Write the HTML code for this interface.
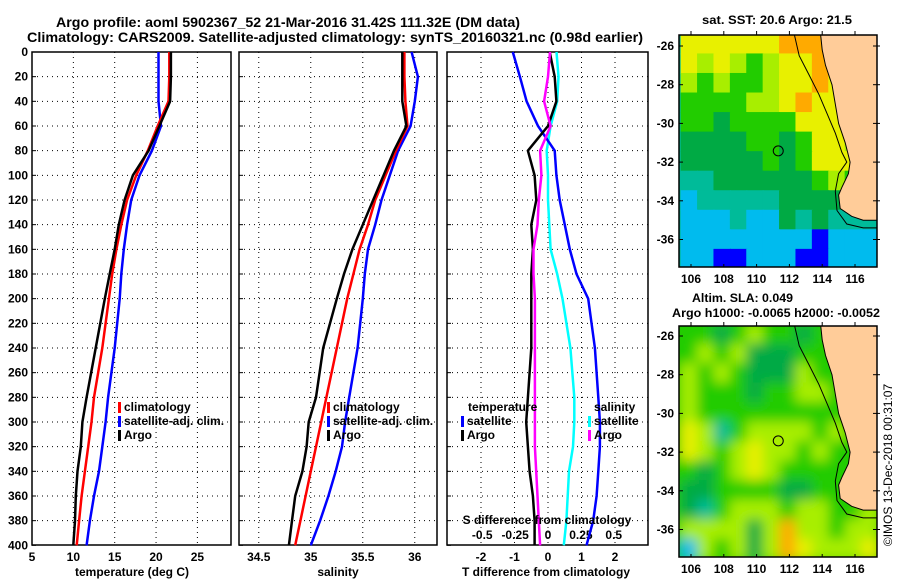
<!DOCTYPE html>
<html><head><meta charset="utf-8"><style>
body{margin:0;background:#fff}
svg text{font-family:"Liberation Sans",sans-serif;font-weight:bold;font-size:12px;fill:#000}
</style></head><body>
<svg id="s" width="900" height="580" viewBox="0 0 900 580" xmlns="http://www.w3.org/2000/svg">
<defs><filter id="bl" x="0" y="0" width="1" height="1"><feGaussianBlur stdDeviation="6"/></filter>
<clipPath id="c1"><rect x="679" y="35" width="198" height="232"/></clipPath>
<clipPath id="c2"><rect x="679" y="326" width="198" height="231"/></clipPath></defs>
<text x="56" y="27" textLength="464" lengthAdjust="spacingAndGlyphs" style="font-size:14px">Argo profile: aoml 5902367_52 21-Mar-2016 31.42S 111.32E (DM data)</text>
<text x="27" y="42" textLength="616" lengthAdjust="spacingAndGlyphs" style="font-size:14px">Climatology: CARS2009. Satellite-adjusted climatology: synTS_20160321.nc (0.98d earlier)</text>
<text x="702" y="24" textLength="150" lengthAdjust="spacingAndGlyphs">sat. SST: 20.6 Argo: 21.5</text>
<text x="692" y="302" textLength="101" lengthAdjust="spacingAndGlyphs">Altim. SLA: 0.049</text>
<text x="672" y="317" textLength="208" lengthAdjust="spacingAndGlyphs">Argo h1000: -0.0065 h2000: -0.0052</text>
<text transform="translate(892,465) rotate(-90)" text-anchor="middle" style="font-weight:normal">©IMOS 13-Dec-2018 00:31:07</text>
<g id="g"></g>
</svg>
<script>
const depths=[0,20,40,60,80,100,120,140,160,180,200,240,280,300,320,340,360,380,400];
const tempArgo=[21.8,21.8,21.7,20.4,19.1,17.2,16.2,15.5,15.0,14.4,13.8,12.7,11.6,11.1,10.9,10.5,10.3,10.2,10.0];
const tempClim=[21.6,21.6,21.5,20.2,19.0,17.6,16.5,15.8,15.2,14.7,14.3,13.5,12.5,12.2,11.8,11.4,11.0,10.7,10.4];
const tempSat=[20.3,20.3,20.3,20.6,19.5,18.0,17.0,16.5,16.1,15.8,15.6,15.0,14.2,13.9,13.5,13.1,12.5,12.0,11.6];
const salArgo=[35.88,35.88,35.88,35.92,35.8,35.7,35.6,35.5,35.4,35.32,35.25,35.12,35.05,34.98,34.96,34.92,34.85,34.82,34.79];
const salClim=[35.9,35.9,35.91,35.93,35.82,35.72,35.62,35.55,35.47,35.41,35.35,35.25,35.15,35.1,35.05,35.0,34.95,34.9,34.85];
const salSat=[35.97,36.03,36.0,35.96,35.84,35.76,35.68,35.62,35.55,35.52,35.5,35.45,35.37,35.33,35.3,35.24,35.17,35.09,35.0];
const dTempSat=[-1.05,-0.84,-0.64,-0.3,0.2,0.25,0.35,0.5,0.65,0.85,1.2,1.4,1.5,1.55,1.55,1.5,1.45,1.35,1.15];
const dTempArgo=[0.05,0.2,0.25,0.0,-0.6,-0.4,-0.35,-0.5,-0.45,-0.5,-0.5,-0.5,-0.6,-0.65,-0.6,-0.55,-0.45,-0.4,-0.4];
const dSalArgo=[0.015,0.0,-0.03,0.02,-0.06,-0.05,-0.07,-0.08,-0.11,-0.11,-0.1,-0.1,-0.1,-0.1,-0.1,-0.09,-0.08,-0.07,-0.06];
const dSalSat=[0.065,0.08,0.07,0.02,-0.01,0.0,0.0,0.01,0.02,0.07,0.11,0.17,0.2,0.2,0.19,0.16,0.15,0.14,0.12];
const depthTicks=[0,20,40,60,80,100,120,140,160,180,200,220,240,260,280,300,320,340,360,380,400];
const tempTicks=[5,10,15,20,25];
const salTicks=[34.5,35,35.5,36];
const dTTicks=[-2,-1,0,1,2];
const dSTicks=[-0.5,-0.25,0,0.25,0.5];
const dSLabels=["-0.5","-0.25","0","0.25","0.5"];
const lonTicks=[106,108,110,112,114,116];
const latTicks=[-26,-28,-30,-32,-34,-36];
const pal={Y:"#e8f000",L:"#a8ee00",G:"#22cc00",D:"#00aa44",T:"#00bb99",C:"#00bbee",B:"#0000ff",O:"#ffaa00",R:"#ff2200"};
const sstGrid=["YYYYYYOOORYY","YLYLGLYYOOYY","LGLGGLYYOYYY","GGGGLLYOYYYY","GGDGGGGYYYLL","DDDDGGDGYYLL","DDDDDGDGYYYY","TTDDDDDDGLGG","CTTTTTDDDDGG","CCCTCCDTDTTT","CCCCCCCCBCCC","CCBBCCCBBCCC"];
const slaGrid=["GGDGLGGDGGGG","GLGLDDDGGGGG","LGLGDDDLGGGG","LGGGDGGLLGGG","LGGGGGGGGGGG","YLTGLLLLGLGG","YLGLYLLGLGGG","GDGLYLGGGGGG","DDGGGGDDGGGG","DTGLLLGLLGGL","LLLLDLOLLGLL","CLGLDLOYLLLY"];
const landLon=[113.9,117.4,117.4,116.5,115.8,115.1,115.0,115.2,115.6,115.7,115.4,115.0,114.8,114.6,114.2,114.0];
const landLat=[-25.4,-25.4,-35.0,-35.0,-34.8,-34.4,-33.7,-33.3,-32.6,-32.0,-31.0,-30.0,-29.0,-28.0,-27.0,-26.2];
const isoLon=[112.3,112.6,113.2,113.8,114.3,114.8,115.2,115.5,115.0,114.8,114.9,115.5,116.5,117.4];
const isoLat=[-25.4,-26.5,-27.5,-28.5,-29.5,-30.5,-31.5,-32.0,-32.6,-33.5,-34.5,-35.2,-35.4,-35.4];
const argoLon=111.32, argoLat=-31.42;

const NS="http://www.w3.org/2000/svg", G=document.getElementById('g');
function mk(t,a,p){const e=document.createElementNS(NS,t);for(const k in a)e.setAttribute(k,a[k]);(p||G).appendChild(e);return e;}
const yD=d=>52+d*1.2333;
const xT=v=>32+(v-5)*8.27;
const xS=v=>239+(v-34.31)*104;
const xDT=v=>548+v*33.5;
const xDS=v=>548+v*131.5;
const panels=[[32,231],[239,437],[447,648]];
panels.forEach((p,i)=>{
  depthTicks.forEach(d=>{if(d>0&&d<400){const l=mk('line',{x1:p[0],x2:p[1],y1:yD(d),y2:yD(d),stroke:'#000','stroke-dasharray':'1,4'});}
    const t=mk('line',{x1:p[0],x2:p[0]+4,y1:yD(d),y2:yD(d),stroke:'#000'});});
});
function vgrid(ticks,f,lab,ly){ticks.forEach((v,i)=>{const x=f(v);const l=mk('line',{x1:x,x2:x,y1:52,y2:545,stroke:'#000','stroke-dasharray':'1,4'});
 const t=mk('text',{x:x,y:ly,'text-anchor':'middle'});t.textContent=lab?lab[i]:v;});}
vgrid(tempTicks,xT,null,561);vgrid(salTicks,xS,null,561);vgrid(dTTicks,xDT,null,561);
dSTicks.forEach((v,i)=>{const t=mk('text',{x:xDS(v),y:539,'text-anchor':'middle'});t.textContent=dSLabels[i];});
depthTicks.forEach(d=>{const t=mk('text',{x:28,y:yD(d)+4,'text-anchor':'end'});t.textContent=d;});
panels.forEach((p,i)=>{const r=mk('rect',{x:p[0],y:52,width:p[1]-p[0],height:493,fill:'none',stroke:'#000','stroke-width':1.5});});
function line(vals,f,col,name){const pts=vals.map((v,i)=>f(v).toFixed(1)+','+yD(depths[i]).toFixed(1)).join(' ');const l=mk('polyline',{points:pts,fill:'none',stroke:col,'stroke-width':2.5});}
line(tempSat,xT,'#0000ff','temp-satellite-line');line(tempClim,xT,'#ff0000','temp-climatology-line');line(tempArgo,xT,'#000','temp-argo-line');
line(salSat,xS,'#0000ff','sal-satellite-line');line(salClim,xS,'#ff0000','sal-climatology-line');line(salArgo,xS,'#000','sal-argo-line');
line(dSalSat,xDS,'#00ffff','sdiff-satellite-line');line(dTempSat,xDT,'#0000ff','tdiff-satellite-line');line(dTempArgo,xDT,'#000','tdiff-argo-line');line(dSalArgo,xDS,'#ff00ff','sdiff-argo-line');
function leg(x,y,col,txt,name){const b=mk('rect',{x:x,y:y-9,width:3,height:11,fill:col});
 if(txt){const t=mk('text',{x:x+6,y:y});t.textContent=txt;}}
[[118,0],[327,1]].forEach(([x,i])=>{leg(x,411,'#f00','climatology','legend-climatology');leg(x,425,'#00f','satellite-adj. clim.','legend-satellite-adj');leg(x,439,'#000','Argo','legend-argo');});
let t=mk('text',{x:468,y:411});t.textContent='temperature';
leg(461,425,'#00f','satellite','legend-t-satellite');leg(461,439,'#000','Argo','legend-t-argo');
t=mk('text',{x:594,y:411});t.textContent='salinity';
leg(588,425,'#0ff','satellite','legend-s-satellite');leg(588,439,'#f0f','Argo','legend-s-argo');
t=mk('text',{x:547,y:524,'text-anchor':'middle'});t.textContent='S difference from climatology';
[[132,'temperature (deg C)','temp-axis-title'],[338,'salinity','salinity-axis-title'],[546,'T difference from climatology','t-diff-axis-title']].forEach(a=>{const e=mk('text',{x:a[0],y:576,'text-anchor':'middle'});e.textContent=a[1];});
const mx=lon=>691+(lon-106)*16.4;
function map(grid,y0,y1,top,clip,name,blur){
  const my=lat=>top+(-26-lat)*19.35;
  const g=mk('g',{'clip-path':'url(#'+clip+')'});
  const cg=mk('g',blur?{filter:'url(#bl)'}:{},g);
  mk('rect',{x:660,y:y0-20,width:240,height:y1-y0+40,fill:blur?'#22cc00':'#00bb99'},cg);
  grid.forEach((row,r)=>{[...row].forEach((c,k)=>{const la=-25.4-r*1.01;const cell=mk('rect',{x:mx(105.4+k)-0.5,y:my(la)-0.5,width:17.4,height:20.5,fill:pal[c]},cg);});});
  const lp=landLon.map((v,i)=>mx(v).toFixed(1)+','+my(landLat[i]).toFixed(1)).join(' ');
  const land=mk('polygon',{points:lp,fill:'#ffcc99',stroke:'#000','stroke-width':1},g);
  const ip=isoLon.map((v,i)=>mx(v).toFixed(1)+','+my(isoLat[i]).toFixed(1)).join(' ');
  const iso=mk('polyline',{points:ip,fill:'none',stroke:'#000','stroke-width':1},g);
  const c=mk('circle',{cx:mx(argoLon),cy:my(argoLat),r:5,fill:'none',stroke:'#000','stroke-width':1},g);
  const fr=mk('rect',{x:679,y:y0,width:198,height:y1-y0,fill:'none',stroke:'#000','stroke-width':1.5});
  latTicks.forEach(la=>{const y=my(la);mk('line',{x1:679,x2:683,y1:y,y2:y,stroke:'#000'});mk('line',{x1:873,x2:880,y1:y,y2:y,stroke:'#000'});
    const e=mk('text',{x:674,y:y+4,'text-anchor':'end'});e.textContent=la;});
  lonTicks.forEach(lo=>{const x=mx(lo);mk('line',{x1:x,x2:x,y1:y0-4,y2:y0,stroke:'#000'});mk('line',{x1:x,x2:x,y1:y1,y2:y1-3,stroke:'#000'});
    const e=mk('text',{x:x,y:y1+16,'text-anchor':'middle'});e.textContent=lo;});
}
map(sstGrid,35,267,46,'c1','sst-map',false);
map(slaGrid,326,557,336,'c2','sla-map',true);
</script>
</body></html>
